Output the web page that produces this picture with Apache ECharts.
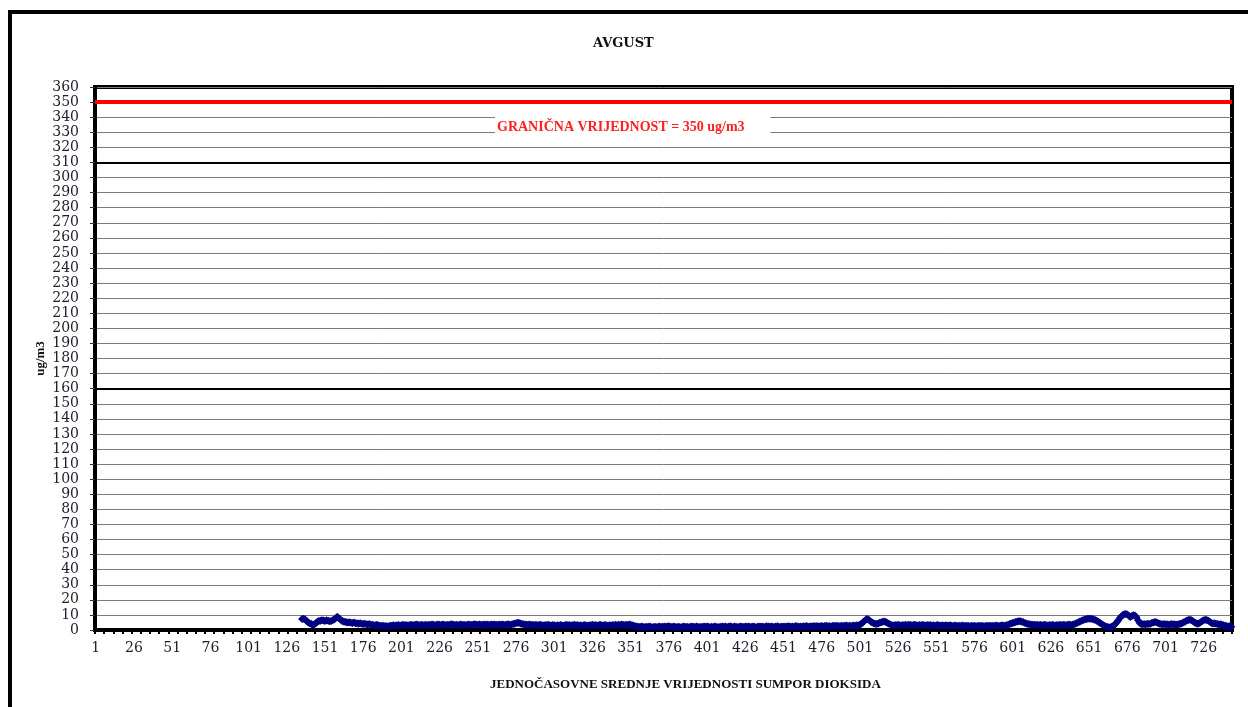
<!DOCTYPE html>
<html>
<head>
<meta charset="utf-8">
<script src="https://cdn.jsdelivr.net/npm/echarts@6/dist/echarts.min.js"></script>
<style>
  html, body { margin: 0; padding: 0; background: #fff; }
  #chart { width: 1248px; height: 707px; }
</style>
</head>
<body>
<div id="chart"></div>
<script>
// ---- data ----
const titleText = 'AVGUST';
const xAxisTitle = 'JEDNOČASOVNE SREDNJE VRIJEDNOSTI SUMPOR DIOKSIDA';
const yAxisTitle = 'ug/m3';
const limitValue = 350;
const limitLabel = 'GRANIČNA VRIJEDNOST = 350 ug/m3';
const emphasisLines = [310, 160];
const hourCount = 744;
const startHour = 136;
const yMin = 0, yMax = 360, yStep = 10;

// hourly SO2 values, hours 136..744
const so2Values = [
  7.3, 7.5, 7, 6, 5, 4.5, 4, 3.5, 3.8, 4.5,          // 136-145
  5.5, 6, 6.2, 6.5, 6.3, 6, 6.4, 6.2, 5.8, 6,        // 146-155
  6.5, 7, 7.8, 8.8, 8, 7, 6.2, 5.6, 5.4, 5.2,        // 156-165
  5, 5.1, 4.8, 4.6, 4.9, 4.5, 4.4, 4.2, 4.5, 4.1,    // 166-175
  4, 4.2, 3.8, 3.6, 3.9, 3.5, 3.4, 3.1, 3.2, 3.4,    // 176-185
  3, 2.9, 2.6, 2.8, 2.5, 2.7, 2.4, 2.6, 2.9, 3,      // 186-195
  3.2, 2.9, 3.1, 3.3, 3, 3.2, 3.4, 3.1, 3.3, 3,      // 196-205
  3.2, 3.5, 3.3, 3.1, 3.4, 3.6, 3.3, 3.2, 3.5, 3.3,  // 206-215
  3.1, 3.4, 3.2, 3.5, 3.3, 3.6, 3.4, 3.2, 3.5, 3.7,  // 216-225
  3.4, 3.3, 3.6, 3.4, 3.2, 3.5, 3.3, 3.6, 3.8, 3.5,  // 226-235
  3.3, 3.5, 3.2, 3.4, 3.6, 3.3, 3.5, 3.2, 3.4, 3.6,  // 236-245
  3.5, 3.3, 3.6, 3.8, 3.5, 3.4, 3.7, 3.5, 3.3, 3.6,  // 246-255
  3.4, 3.6, 3.3, 3.5, 3.7, 3.4, 3.6, 3.5, 3.3, 3.6,  // 256-265
  3.4, 3.7, 3.5, 3.3, 3.6, 3.8, 3.5, 3.7, 3.9, 4.2,  // 266-275
  4.5, 4.8, 4.6, 4.3, 4, 3.8, 3.6, 3.5, 3.4, 3.6,    // 276-285
  3.3, 3.5, 3.2, 3.4, 3.1, 3.3, 3.5, 3.2, 3, 3.3,    // 286-295
  3.1, 3.4, 3.2, 3, 3.3, 3.1, 2.9, 3.2, 3, 3.3,      // 296-305
  3.1, 2.9, 3.2, 3.4, 3.1, 3.3, 3, 3.2, 3.4, 3.1,    // 306-315
  3.3, 3, 3.2, 2.9, 3.1, 3.3, 3, 2.8, 3.1, 3.2,      // 316-325
  3.4, 3.1, 3.3, 3, 3.2, 3.5, 3.2, 3, 3.3, 3.1,      // 326-335
  2.9, 3.2, 3, 3.3, 3.1, 3.4, 3.2, 3.5, 3.3, 3.6,    // 336-345
  3.4, 3.2, 3.5, 3.3, 3.6, 3.4, 3.1, 2.8, 2.5, 2.3,  // 346-355
  2.2, 2, 2.3, 2.1, 1.9, 2.2, 2, 2.3, 2.1, 1.8,      // 356-365
  2, 2.2, 1.9, 2.1, 2.3, 2, 2.2, 2.4, 2.1, 2.3,      // 366-375
  2.5, 2.2, 2, 2.3, 2.1, 1.9, 2.2, 2, 1.8, 2.1,      // 376-385
  2.3, 2, 2.2, 1.9, 2.1, 2.4, 2.2, 2, 2.3, 2.1,      // 386-395
  1.9, 2.2, 2, 2.3, 2.1, 2.4, 2.2, 1.9, 2.1, 2,      // 396-405
  2.3, 2.1, 1.8, 2, 2.2, 2.4, 2.1, 2.3, 2, 2.2,      // 406-415
  2.5, 2.2, 2, 2.3, 2.1, 1.9, 2.2, 2.4, 2.1, 2,      // 416-425
  2.3, 2.1, 2.4, 2.2, 2, 2.3, 2.1, 1.9, 2.2, 2.4,    // 426-435
  2.1, 2.3, 2, 2.2, 2.5, 2.3, 2.1, 2.4, 2.2, 2,      // 436-445
  2.3, 2.5, 2.2, 2, 2.3, 2.1, 2.4, 2.2, 2.5, 2.3,    // 446-455
  2.1, 2.4, 2.2, 2.6, 2.3, 2.1, 2.4, 2.2, 2.5, 2.3,  // 456-465
  2.6, 2.4, 2.2, 2.5, 2.3, 2.7, 2.4, 2.6, 2.3, 2.5,  // 466-475
  2.7, 2.4, 2.6, 2.8, 2.5, 2.7, 2.4, 2.6, 2.9, 2.6,  // 476-485
  2.8, 2.5, 2.7, 2.9, 2.6, 2.8, 3, 2.7, 2.9, 2.6,    // 486-495
  2.8, 3, 2.9, 3.1, 3, 3.4, 4.1, 5, 6, 6.9,          // 496-505
  7.3, 6.6, 5.7, 5, 4.5, 4.2, 4, 4.3, 4.8, 5.2,      // 506-515
  5.5, 5.6, 5.3, 4.7, 4.1, 3.6, 3.2, 3, 3.3, 3.1,    // 516-525
  3.4, 3.2, 3, 3.3, 3.1, 3.4, 3.2, 3.5, 3.3, 3.1,    // 526-535
  3.3, 3.5, 3.2, 3, 3.3, 3.1, 3.4, 3.2, 3, 3.3,      // 536-545
  3.1, 3.3, 3, 3.2, 2.9, 3.1, 3.3, 3, 2.8, 3.1,      // 546-555
  2.9, 3.2, 3, 2.8, 3.1, 2.9, 2.7, 3, 2.8, 2.6,      // 556-565
  2.9, 2.7, 3, 2.8, 2.6, 2.9, 2.7, 2.5, 2.8, 2.6,    // 566-575
  2.8, 2.5, 2.7, 2.9, 2.6, 2.8, 2.5, 2.7, 2.9, 2.6,  // 576-585
  2.8, 2.6, 2.9, 2.7, 3, 2.8, 2.6, 2.9, 3.1, 2.8,    // 586-595
  3, 3.2, 3.5, 3.9, 4.3, 4.7, 5, 5.3, 5.6, 5.8,      // 596-605
  5.8, 5.5, 5.1, 4.7, 4.3, 4, 3.8, 3.6, 3.5, 3.4,    // 606-615
  3.3, 3.5, 3.2, 3.4, 3.1, 3.3, 3.5, 3.2, 3, 3.3,    // 616-625
  3.1, 3.4, 3.2, 3, 3.3, 3.1, 3.4, 3.2, 3.5, 3.3,    // 626-635
  3.1, 3.4, 3.6, 3.3, 3.5, 3.8, 4.2, 4.6, 5.1, 5.6,  // 636-645
  6.1, 6.5, 6.9, 7.2, 7.4, 7.5, 7.5, 7.3, 7, 6.6,    // 646-655
  6.1, 5.5, 4.8, 4.1, 3.4, 2.8, 2.3, 2, 1.8, 1.9,    // 656-665
  2.3, 2.9, 3.8, 5, 6.3, 7.8, 9, 10, 10.4, 10.6,     // 666-675
  10.2, 9.4, 8.6, 9.2, 9.8, 9.6, 8.4, 6.5, 4.8, 4,   // 676-685
  3.8, 4, 3.7, 4.1, 3.9, 4.2, 4.6, 5, 5.3, 5.1,      // 686-695
  4.7, 4.2, 3.9, 3.7, 3.9, 3.6, 3.8, 3.5, 3.7, 3.9,  // 696-705
  3.6, 3.8, 3.5, 3.7, 3.9, 4.2, 4.6, 5.1, 5.7, 6.3,  // 706-715
  6.6, 6.8, 6.5, 5.8, 5, 4.4, 4.1, 4.5, 5.2, 6,      // 716-725
  6.5, 6.8, 6.7, 6.2, 5.4, 4.7, 4.3, 4.5, 4.2, 3.9,  // 726-735
  3.6, 3.8, 3.4, 3.1, 2.8, 2.6, 2.4, 2.5, 2.2        // 736-744
];

// ---- build ----
const hours = [];
for (let h = 1; h <= hourCount; h++) hours.push(String(h));
const seriesData = hours.map((h, i) => {
  const k = i + 1 - startHour;
  return (k >= 0 && k < so2Values.length) ? so2Values[k] : null;
});

const serif = "'Liberation Serif', 'DejaVu Serif', serif";
const labelFont = "'DejaVu Serif', serif";

const chart = echarts.init(document.getElementById('chart'), null, { renderer: 'canvas' });
chart.setOption({
  backgroundColor: '#ffffff',
  animation: false,
  title: {
    text: titleText,
    left: 588,
    top: 32,
    textStyle: { fontFamily: labelFont, fontSize: 13, fontWeight: 'bold', color: '#111' }
  },
  grid: {
    left: 95, right: 16, top: 87, bottom: 77,
    show: true, borderColor: '#000', borderWidth: 4, backgroundColor: '#fff'
  },
  xAxis: {
    type: 'category',
    data: hours,
    boundaryGap: true,
    axisLine: { lineStyle: { color: '#000', width: 4 } },
    axisTick: { show: true, interval: 5, length: 4, lineStyle: { color: '#000', width: 2 } },
    axisLabel: { interval: 24, margin: 11, fontFamily: labelFont, fontSize: 14, color: '#1c1c2c' },
    splitLine: { show: false }
  },
  yAxis: {
    type: 'value',
    min: yMin, max: yMax, interval: yStep,
    name: yAxisTitle,
    nameLocation: 'middle',
    nameGap: 48,
    nameMoveOverlap: false,
    nameTextStyle: { fontFamily: serif, fontSize: 13, fontWeight: 'bold', color: '#111' },
    axisLine: { show: true, lineStyle: { color: '#000', width: 4 } },
    axisTick: { show: true, length: 5, lineStyle: { color: '#333', width: 1 } },
    axisLabel: { margin: 16, fontFamily: labelFont, fontSize: 14, color: '#1c1c2c' },
    splitLine: { show: true, lineStyle: { color: '#7a7a7a', width: 1 } }
  },
  series: [{
    type: 'line',
    data: seriesData,
    connectNulls: false,
    showAllSymbol: true,
    symbol: 'diamond',
    symbolSize: 8,
    itemStyle: { color: '#000080' },
    lineStyle: { color: '#000080', width: 4 },
    z: 5,
    markLine: {
      silent: true,
      symbol: 'none',
      label: { show: false },
      data: [
        { yAxis: limitValue, lineStyle: { color: '#ff0000', width: 4, type: 'solid' } },
        { yAxis: emphasisLines[0], lineStyle: { color: '#000', width: 2, type: 'solid' } },
        { yAxis: emphasisLines[1], lineStyle: { color: '#000', width: 2, type: 'solid' } }
      ]
    }
  }],
  graphic: [
    {
      type: 'rect', z: 100, silent: true,
      shape: { x: 10, y: 12, width: 1270, height: 730 },
      style: { fill: 'none', stroke: '#000', lineWidth: 4 }
    },
    {
      type: 'text', z: 100, left: 495, top: 117,
      style: {
        text: limitLabel, fill: '#ff2020',
        font: "bold 14px 'Liberation Serif', serif",
        backgroundColor: '#fff', padding: [3, 26, 3, 2]
      }
    },
    {
      type: 'text', z: 100, left: 490, top: 678,
      style: {
        text: xAxisTitle, fill: '#111',
        font: "bold 13px 'Liberation Serif', serif"
      }
    }
  ]
});
</script>
</body>
</html>
